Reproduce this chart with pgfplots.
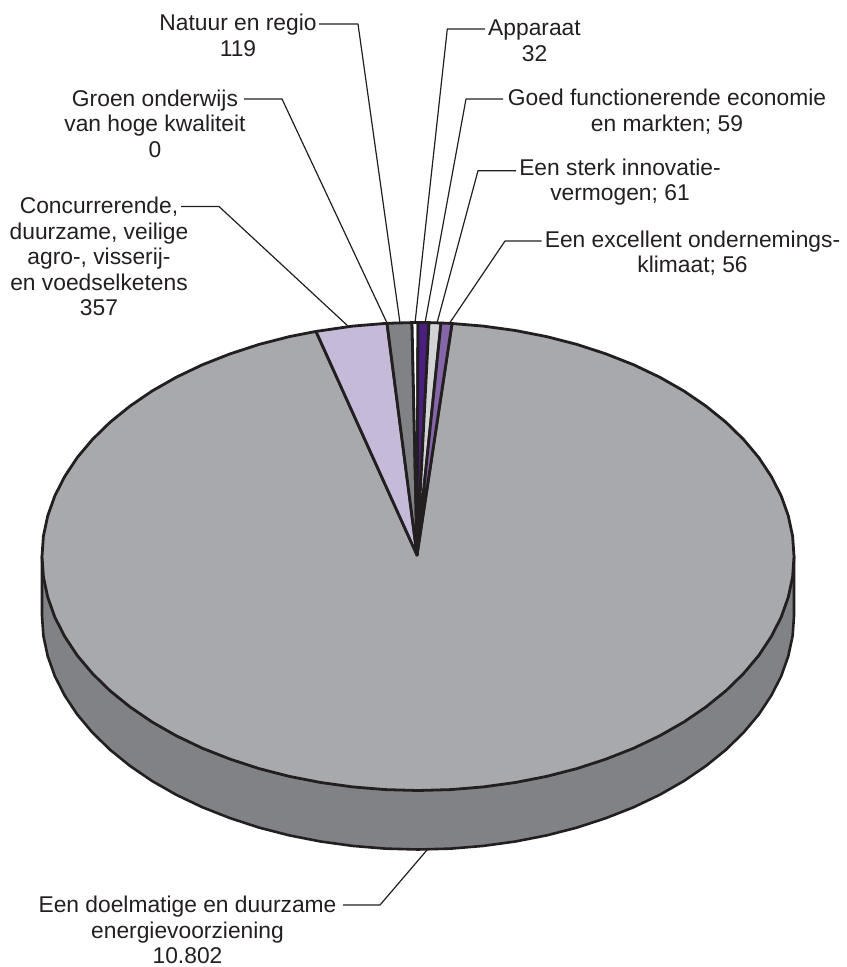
\documentclass[border=0pt]{standalone}
\usepackage{fontspec}
\setmainfont{Liberation Sans}
\usepackage{pgfplots}
\pgfplotsset{compat=1.18}
\definecolor{ink}{HTML}{231F20}
\definecolor{hoofd}{HTML}{A7A9AC}
\definecolor{zijkant}{HTML}{808285}
\definecolor{lila}{HTML}{C5BAD8}
\definecolor{donkerpaars}{HTML}{4B1F7D}
\definecolor{paars}{HTML}{8566A8}
\definecolor{lichtgrijs}{HTML}{D1D3D4}
\tikzset{lab/.style={align=center, text=ink, inner sep=0pt,
    font=\fontsize{11.4}{12.8}\selectfont}}
\begin{document}
\begin{tikzpicture}
\path[use as bounding box] (0,0) rectangle (423pt,483.5pt);
\begin{axis}[
    at={(0,0)}, anchor=south west,
    scale only axis,
    width=423pt,
    height=483.5pt,
    xmin=0, xmax=846,
    ymin=0, ymax=967,
    y dir=reverse,
    hide axis,
    clip=false,
    no marks,
    every axis plot/.append style={line join=round},
]
% zijkant
\addplot[draw=ink, fill=zijkant, line width=1.3pt] coordinates {
    (794,556.5) (794,615.5) (792.6,635.9) (788.3,656.1) (781.2,676.1) (771.3,695.5)
    (758.8,714.4) (743.6,732.5) (726,749.7) (706,765.9) (683.9,781) (659.7,794.8)
    (633.7,807.2) (606,818.1) (576.9,827.6) (546.6,835.4) (515.3,841.5) (483.3,845.9)
    (450.8,848.6) (418,849.5) (385.2,848.6) (352.7,845.9) (320.7,841.5) (289.4,835.4)
    (259.1,827.6) (230,818.1) (202.3,807.2) (176.3,794.8) (152.1,781) (130,765.9)
    (110,749.7) (92.4,732.5) (77.2,714.4) (64.7,695.5) (54.8,676.1) (47.7,656.1)
    (43.4,635.9) (42,615.5) (42,556.5)
} -- cycle;
% Een doelmatige en duurzame energievoorziening, 10.802
\addplot[draw=ink, fill=hoofd, line width=1.4pt] coordinates {
    (417,555) (452,323.5) (483.3,326.1) (515.3,330.5) (546.6,336.6) (576.9,344.4)
    (606,353.9) (633.7,364.8) (659.7,377.2) (683.9,391) (706,406.1) (726,422.3)
    (743.6,439.5) (758.8,457.6) (771.3,476.5) (781.2,495.9) (788.3,515.9) (792.6,536.1)
    (794,556.5) (792.6,576.9) (788.3,597.1) (781.2,617.1) (771.3,636.5) (758.8,655.4)
    (743.6,673.5) (726,690.7) (706,706.9) (683.9,722) (659.7,735.8) (633.7,748.2)
    (606,759.1) (576.9,768.6) (546.6,776.4) (515.3,782.5) (483.3,786.9) (450.8,789.6)
    (418,790.5) (385.2,789.6) (352.7,786.9) (320.7,782.5) (289.4,776.4) (259.1,768.6)
    (230,759.1) (202.3,748.2) (176.3,735.8) (152.1,722) (130,706.9) (110,690.7)
    (92.4,673.5) (77.2,655.4) (64.7,636.5) (54.8,617.1) (47.7,597.1) (43.4,576.9)
    (42,556.5) (43.4,536.1) (47.7,515.9) (54.8,495.9) (64.7,476.5) (77.2,457.6)
    (92.4,439.5) (110,422.3) (130,406.1) (152.1,391) (176.3,377.2) (202.3,364.8)
    (230,353.9) (259.1,344.4) (289.4,336.6) (316,331.4)
} -- cycle;
% Concurrerende ... voedselketens, 357
\addplot[draw=ink, fill=lila, line width=1.4pt] coordinates {
    (417,555) (316,331.4) (352.7,326.1) (387,323.3)
} -- cycle;
% Natuur en regio, 119
\addplot[draw=ink, fill=zijkant, line width=1.4pt] coordinates {
    (417,555) (387,323.3) (412,322.6)
} -- cycle;
% Groen onderwijs / Apparaat
\addplot[draw=ink, fill=white, line width=1.4pt] coordinates {
    (417,555) (412,322.6) (418,322.5)
} -- cycle;
% Goed functionerende economie, 59
\addplot[draw=ink, fill=donkerpaars, line width=1.4pt] coordinates {
    (417,555) (418,322.5) (429,322.6)
} -- cycle;
% Een sterk innovatievermogen, 61
\addplot[draw=ink, fill=lichtgrijs, line width=1.4pt] coordinates {
    (417,555) (429,322.6) (441,323)
} -- cycle;
% Een excellent ondernemingsklimaat, 56
\addplot[draw=ink, fill=paars, line width=1.4pt] coordinates {
    (417,555) (441,323) (452,323.5)
} -- cycle;
% verwijslijnen
\addplot[ink, line width=0.6pt] coordinates {(319,24) (358,24) (400,323)};
\addplot[ink, line width=0.6pt] coordinates {(244,99) (282,99) (387,323)};
\addplot[ink, line width=0.6pt] coordinates {(181,206.5) (219,206.5) (349,327)};
\addplot[ink, line width=0.6pt] coordinates {(485,29) (447.3,29) (415,323)};
\addplot[ink, line width=0.6pt] coordinates {(503,99) (466,99) (425,323)};
\addplot[ink, line width=0.6pt] coordinates {(516,170.7) (478,170.7) (437,323)};
\addplot[ink, line width=0.6pt] coordinates {(541.7,241) (505,241) (449,324)};
\addplot[ink, line width=0.6pt] coordinates {(343,905) (380,905) (427,850)};
% teksten
\node[lab] at (axis cs:238,35.5) {Natuur en regio\\119};
\node[lab] at (axis cs:155,123.5) {Groen onderwijs\\van hoge kwaliteit\\0};
\node[lab] at (axis cs:99,256.5) {Concurrerende,\\duurzame, veilige\\agro-, visserij-\\en voedselketens\\357};
\node[lab] at (axis cs:534.5,41) {Apparaat\\32};
\node[lab] at (axis cs:667,112) {Goed functionerende economie\\en markten; 59};
\node[lab] at (axis cs:620,182) {Een sterk innovatie-\\vermogen; 61};
\node[lab] at (axis cs:692.5,253) {Een excellent ondernemings-\\klimaat; 56};
\node[lab] at (axis cs:187.5,930) {Een doelmatige en duurzame\\energievoorziening\\10.802};
\end{axis}
\end{tikzpicture}
\end{document}
